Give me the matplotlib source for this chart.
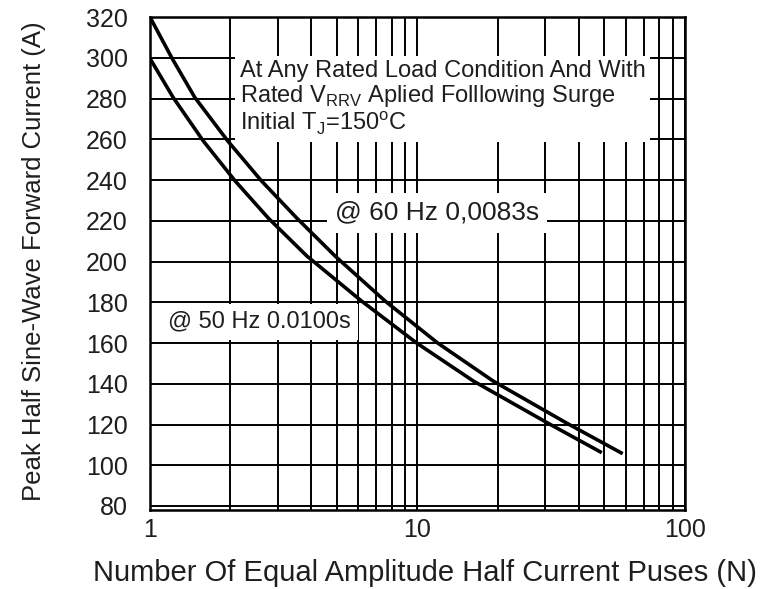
import matplotlib
matplotlib.use('Agg')
import matplotlib.pyplot as plt
from matplotlib.ticker import FixedLocator, NullFormatter

# surge curves
n_60hz = [1, 1.21, 1.47, 1.95, 2.61, 3.54, 4.92, 7.57, 11.9, 19.2, 36.1, 57.7]
i_60hz = [320, 299.7, 280.6, 259.3, 239.6, 221.3, 202.7, 180.6, 160, 141.3, 120.7, 106.1]
n_50hz = [1, 1.22, 1.58, 2.08, 2.77, 3.86, 6.18, 9.93, 16.2, 30.7, 48.2]
i_50hz = [299.7, 280.6, 259.3, 239.6, 221.3, 202.7, 180.6, 160, 141.3, 120.7, 106.6]

x_ticks = [1, 10, 100]
x_minor = [2, 3, 4, 5, 6, 7, 8, 9, 20, 30, 40, 50, 60, 70, 80, 90]
y_ticks = [80, 100, 120, 140, 160, 180, 200, 220, 240, 260, 280, 300, 320]

note = ('At Any Rated Load Condition And With\n'
        'Rated V$_\\mathregular{RRV}$ Aplied Folllowing Surge\n'
        'Initial T$_\\mathregular{J}$=150$^\\mathregular{o}$C')
label_60 = '@ 60 Hz 0,0083s'
label_50 = '@ 50 Hz 0.0100s'

plt.rcParams['font.family'] = ['Liberation Sans', 'DejaVu Sans']
txt = '#1e1e1e'

fig = plt.figure(figsize=(7.65, 5.89), dpi=100)
ax = fig.add_axes([0.196, 0.134, 0.6994, 0.8371])

ax.set_xscale('log')
ax.set_xlim(1, 100)
ax.set_ylim(78, 320)

ax.xaxis.set_major_locator(FixedLocator(x_ticks))
ax.xaxis.set_minor_locator(FixedLocator(x_minor))
ax.xaxis.set_minor_formatter(NullFormatter())
ax.set_xticklabels([str(v) for v in x_ticks])
ax.set_yticks(y_ticks)

ax.grid(True, which='both', axis='x', color='black', lw=1.4)
ax.grid(True, which='major', axis='y', color='black', lw=1.4)
ax.set_axisbelow(True)
for s in ax.spines.values():
    s.set_linewidth(1.8)

ax.tick_params(which='both', length=0)
ax.tick_params(axis='y', labelsize=18, pad=16, colors=txt)
ax.tick_params(axis='x', labelsize=18, pad=6, colors=txt)

ax.plot(n_60hz, i_60hz, color='black', lw=2.6, zorder=5, solid_joinstyle='round')
ax.plot(n_50hz, i_50hz, color='black', lw=2.6, zorder=5, solid_joinstyle='round')

ax.text(2.17, 280, note, fontsize=17, color=txt, ha='left', va='center',
        linespacing=1.05, zorder=3,
        bbox=dict(boxstyle='square,pad=0.2', fc='white', ec='none'))
ax.text(4.92, 224, label_60, fontsize=19, color=txt, ha='left', va='center',
        bbox=dict(boxstyle='square,pad=0.3', fc='white', ec='none'), zorder=3)
ax.text(1.17, 170.5, label_50, fontsize=17, color=txt, ha='left', va='center',
        bbox=dict(boxstyle='square,pad=0.3', fc='white', ec='none'), zorder=3)

ax.set_xlabel('Number Of Equal Amplitude Half Current Puses (N)', fontsize=21, color=txt)
ax.set_ylabel('Peak Half Sine-Wave Forward Current (A)', fontsize=18.5, color=txt)
ax.xaxis.set_label_coords(0.514, -0.1)
ax.yaxis.set_label_coords(-0.195, 0.505)

fig.savefig('out.png', dpi=100)
